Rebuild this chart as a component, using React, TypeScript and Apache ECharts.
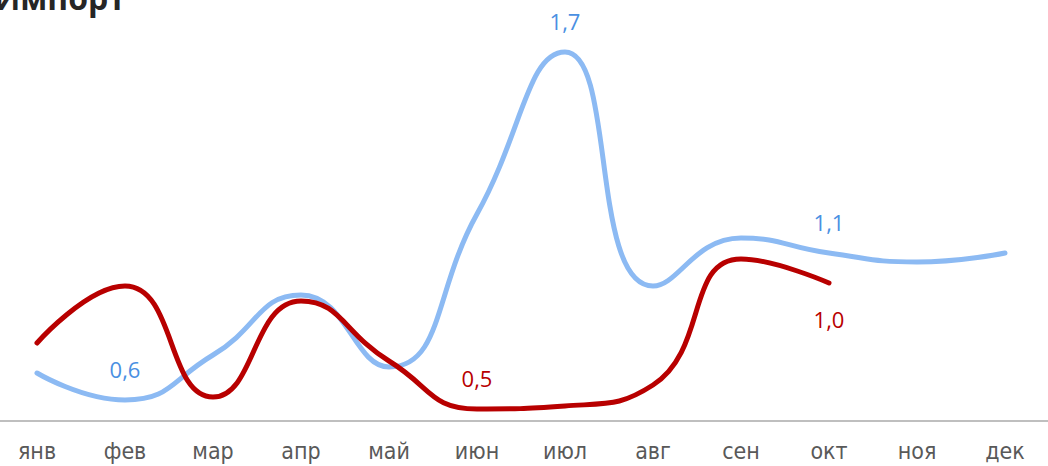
import React, { useEffect, useRef } from "react";
import * as echarts from "echarts";

const months = ["янв", "фев", "мар", "апр", "май", "июн", "июл", "авг", "сен", "окт", "ноя", "дек"];
const blueValues = [0.66, 0.57, 0.72, 0.92, 0.68, 1.19, 1.73, 0.95, 1.11, 1.06, 1.03, 1.06];
const redValues: (number | null)[] = [0.76, 0.95, 0.58, 0.90, 0.70, 0.54, 0.55, 0.62, 1.04, 0.96, null, null];
const blueLabelIdx = [1, 6, 9];
const redLabelIdx = [5];
const redBelowLabelIdx = [9];
const titleText = "Импорт";

const fmt = (v: number) => (Math.round(v * 10) / 10).toFixed(1).replace(".", ",");
const labelFont = "'Open Sans', 'Noto Sans', sans-serif";

export default function App() {
  const ref = useRef<HTMLDivElement>(null);
  useEffect(() => {
    if (!ref.current) return;
    const chart = echarts.init(ref.current, null, { renderer: "svg" });
    const blueData = blueValues.map((v, i) => ({
      value: v,
      label: { show: blueLabelIdx.includes(i) },
    }));
    const redData = redValues.map((v, i) => ({
      value: v,
      label: redBelowLabelIdx.includes(i)
        ? { show: true, position: "bottom", distance: 24 }
        : { show: redLabelIdx.includes(i) },
    }));
    chart.setOption({
      animation: false,
      grid: { left: -7, right: -1, top: 1, bottom: 45, outerBoundsMode: "none", containLabel: false },
      graphic: [
        {
          type: "text",
          x: -6,
          y: -3,
          style: {
            text: titleText,
            fontSize: 32,
            fontWeight: "bold",
            fontFamily: labelFont,
            fill: "#262626",
            verticalAlign: "middle",
          },
        },
      ],
      xAxis: {
        type: "category",
        data: months,
        boundaryGap: true,
        axisLine: { lineStyle: { color: "#bfbfbf", width: 2 } },
        axisTick: { show: false },
        axisLabel: {
          color: "#595959",
          fontSize: 23,
          margin: 18,
          fontFamily: "'Liberation Sans Narrow', 'DejaVu Sans Condensed', sans-serif",
        },
      },
      yAxis: {
        type: "value",
        min: 0.5,
        max: 1.9,
        show: false,
        splitLine: { show: false },
      },
      series: [
        {
          type: "line",
          data: blueData,
          smooth: 0.5,
          symbol: "circle",
          symbolSize: 2,
          showSymbol: true,
          showAllSymbol: true,
          itemStyle: { color: "rgba(0,0,0,0)", borderWidth: 0 },
          lineStyle: { color: "#8cbaf3", width: 5, cap: "round" },
          label: {
            show: false,
            position: "top",
            distance: 19,
            color: "#4a90e2",
            fontSize: 22,
            fontFamily: labelFont,
            formatter: (p: any) => fmt(p.value),
          },
          z: 2,
        },
        {
          type: "line",
          data: redData,
          smooth: 0.5,
          symbol: "circle",
          symbolSize: 2,
          showSymbol: true,
          showAllSymbol: true,
          itemStyle: { color: "rgba(0,0,0,0)", borderWidth: 0 },
          lineStyle: { color: "#b80000", width: 5, cap: "round" },
          label: {
            show: false,
            position: "top",
            distance: 19,
            color: "#b80000",
            fontSize: 22,
            fontFamily: labelFont,
            formatter: (p: any) => fmt(p.value),
          },
          z: 3,
        },
      ],
    });
    return () => chart.dispose();
  }, []);
  return (
    <div
      ref={ref}
      style={{ position: "absolute", left: 0, top: 0, width: 1048, height: 466 }}
    />
  );
}
